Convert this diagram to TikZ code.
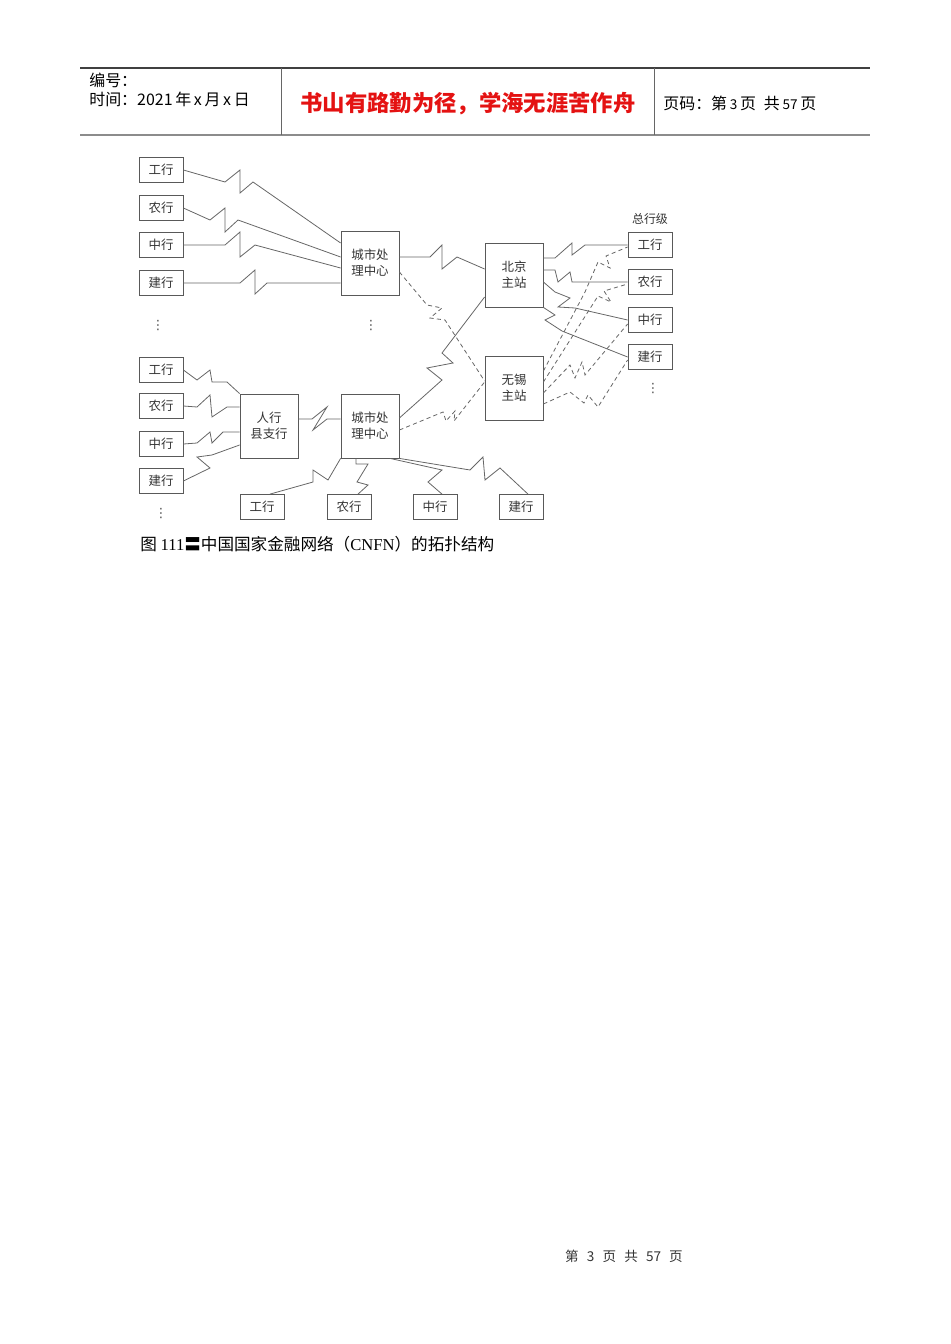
\documentclass[tikz,border=0pt]{standalone}
\usepackage{fontspec}
\setmainfont{Liberation Serif}
\newfontfamily\cjk{Noto Sans CJK SC}
\newfontfamily\dejavu{DejaVu Sans}
\usetikzlibrary{calc}
\definecolor{titlered}{RGB}{228,18,18}
\newcommand{\pxu}{0.6264pt}

\begin{document}
\begin{tikzpicture}[x=0.6264pt,y=-0.6264pt,
    bank node/.style={draw=black!65,line width=0.5pt,inner sep=0pt,
      minimum width=44*\pxu,minimum height=25*\pxu,
      font=\cjk\fontsize{7.8}{9}\selectfont,text=black!80},
    hub node/.style={draw=black!65,line width=0.5pt,inner sep=0pt,align=center,
      minimum width=58*\pxu,minimum height=64*\pxu,
      font=\cjk\fontsize{7.8}{10}\selectfont,text=black!80},
    link/.style={draw=black!60,line width=0.5pt},
    dlink/.style={draw=black!60,line width=0.5pt,dash pattern=on 2.6pt off 2pt},
    more/.style={text=black!70,font=\dejavu\fontsize{8}{8}\selectfont,inner sep=0pt}]

  \useasboundingbox (0,0) rectangle (950,1344);

  % page header
  \draw[black!75,line width=0.7pt] (80,68) -- (870,68);
  \draw[black!45,line width=1.5pt] (80,135) -- (870,135);
  \draw[black!60,line width=0.5pt] (281,68) -- (281,135);
  \draw[black!60,line width=0.5pt] (654,68) -- (654,135);
  \node[anchor=west,inner sep=0pt,font=\cjk\fontsize{10}{11}\selectfont] (hdrno) at (89,80) {编号：};
  \node[anchor=west,inner sep=0pt,font=\cjk\fontsize{10}{11}\selectfont] (hdrtime) at (89,99)
    {时间：2021\,年\,x\,月\,x\,日};
  \node[inner sep=0pt,font=\cjk\bfseries\fontsize{14}{16}\selectfont,text=titlered] (hdrtitle) at (468,104)
    {书山有路勤为径，学海无涯苦作舟};
  \node[anchor=west,inner sep=0pt,font=\cjk\fontsize{10}{11}\selectfont] (hdrpage) at (663,103)
    {页码：第\,{\fontsize{8.5}{10}\selectfont 3}\,页\enspace 共\,{\fontsize{8.5}{10}\selectfont 57}\,页};

  % city level, upper part
  \node[bank node] (icbc1) at (161,170) {工行};
  \node[bank node] (abc1) at (161,208) {农行};
  \node[bank node] (boc1) at (161,245) {中行};
  \node[bank node] (ccb1) at (161,283) {建行};
  \node[more] (dots1) at (158,326) {⋮};
  \node[hub node] (city1) at (370,263) {城市处\\理中心};
  \node[more] (dots2) at (371,326) {⋮};

  % main stations
  \node[hub node] (bj) at (514,275) {北京\\主站};
  \node[hub node] (wx) at (514,388) {无锡\\主站};

  % head offices
  \node[font=\cjk\fontsize{7.5}{8}\selectfont,text=black!80,inner sep=0pt] (headlbl) at (650,219) {总行级};
  \node[bank node] (icbc4) at (650,245) {工行};
  \node[bank node] (abc4) at (650,282) {农行};
  \node[bank node] (boc4) at (650,320) {中行};
  \node[bank node] (ccb4) at (650,357) {建行};
  \node[more] (dots4) at (653,389) {⋮};

  % county level, lower part
  \node[bank node] (icbc2) at (161,370) {工行};
  \node[bank node] (abc2) at (161,406) {农行};
  \node[bank node] (boc2) at (161,444) {中行};
  \node[bank node] (ccb2) at (161,481) {建行};
  \node[more] (dots3) at (161,514) {⋮};
  \node[hub node] (county) at (269,426) {人行\\县支行};
  \node[hub node] (city2) at (370,426) {城市处\\理中心};
  \node[bank node] (icbc3) at (262,507) {工行};
  \node[bank node] (abc3) at (349,507) {农行};
  \node[bank node] (boc3) at (435,507) {中行};
  \node[bank node] (ccb3) at (521,507) {建行};

  % banks -> city1
  \draw[link] (icbc1.east) -- (225,182) -- (240,170) -- (240,193) -- (253,182) -- (city1.west |- 0,243);
  \draw[link] (abc1.east) -- (210,220) -- (225,208) -- (225,232) -- (238,220) -- (city1.west |- 0,257);
  \draw[link] (boc1.east) -- (225,245) -- (240,232) -- (240,257) -- (255,245) -- (city1.west |- 0,268);
  \draw[link] (ccb1.east) -- (240,283) -- (255,270) -- (255,294) -- (267,283) -- (city1.west |- 0,283);

  % city centres -> main stations
  \draw[link] (city1.east |- 0,257) -- (430,257) -- (442,245) -- (442,269) -- (457,257) -- (bj.west |- 0,269);
  \draw[dlink] (city1.east |- 0,272) -- (427,305) -- (442,308) -- (430,318) -- (445,320) -- (wx.west |- 0,381);
  \draw[link] (city2.east |- 0,418) -- (442,380) -- (427,368) -- (453,363) -- (442,353) -- (bj.west |- 0,297);
  \draw[dlink] (city2.east |- 0,430) -- (443,412) -- (446,421) -- (455,411) -- (454,421) -- (wx.west |- 0,382);

  % Beijing -> head offices
  \draw[link] (bj.east |- 0,258) -- (555,258) -- (572,243) -- (572,255) -- (585,245) -- (icbc4.west);
  \draw[link] (bj.east |- 0,270) -- (555,270) -- (558,282) -- (570,272) -- (572,282) -- (abc4.west);
  \draw[link] (bj.east |- 0,282) -- (555,292) -- (570,298) -- (558,307) -- (575,308) -- (boc4.west);
  \draw[link] (bj.south east) -- (555,315) -- (545,320) -- (562,331) -- (ccb4.west);

  % Wuxi -> head offices
  \draw[dlink] (wx.east |- 0,371) -- (585,292) -- (598,262) -- (610,268) -- (606,256) -- (icbc4.west |- 0,247);
  \draw[dlink] (wx.east |- 0,382) -- (598,296) -- (611,302) -- (604,291) -- (abc4.west |- 0,284);
  \draw[dlink] (wx.east |- 0,393) -- (570,365) -- (575,378) -- (582,362) -- (585,375) -- (boc4.west |- 0,324);
  \draw[dlink] (wx.east |- 0,404) -- (570,392) -- (584,403) -- (588,395) -- (598,407) -- (ccb4.west |- 0,360);

  % county banks -> county branch
  \draw[link] (icbc2.east) -- (197,380) -- (210,370) -- (212,382) -- (227,382) -- (county.north west);
  \draw[link] (abc2.east) -- (197,407) -- (210,395) -- (212,417) -- (227,407) -- (county.west |- 0,407);
  \draw[link] (boc2.east) -- (197,443) -- (210,432) -- (212,443) -- (223,432) -- (county.west |- 0,432);
  \draw[link] (ccb2.east) -- (210,468) -- (197,457) -- (212,455) -- (county.west |- 0,445);

  % county branch -> city2
  \draw[link] (county.east |- 0,419) -- (312,419) -- (327,407) -- (313,430) -- (327,419) -- (city2.west |- 0,419);

  % city2 -> local banks
  \draw[link] (city2.south west) -- (328,480) -- (313,470) -- (313,482) -- (icbc3.north -| 270,0);
  \draw[link] (city2.south -| 356,0) -- (356,464) -- (368,464) -- (357,482) -- (368,485) -- (abc3.north -| 358,0);
  \draw[link] (city2.south -| 390,0) -- (442,470) -- (428,482) -- (boc3.north -| 442,0);
  \draw[link] (city2.south east) -- (470,470) -- (483,457) -- (485,480) -- (500,468) -- (ccb3.north -| 528,0);

  % caption and footer
  \node[anchor=west,inner sep=0pt,font=\cjk\fontsize{10.4}{12}\selectfont] (caption) at (140,544)
    {图\ {\rmfamily 111}〓中国国家金融网络（{\rmfamily CNFN}）的拓扑结构};
  \node[inner sep=0pt,font=\cjk\fontsize{8.5}{10}\selectfont,text=black!80] (footer) at (624,1256)
    {第\hspace{0.6em}3\hspace{0.6em}页\hspace{0.6em}共\hspace{0.6em}57\hspace{0.6em}页};
\end{tikzpicture}
\end{document}
